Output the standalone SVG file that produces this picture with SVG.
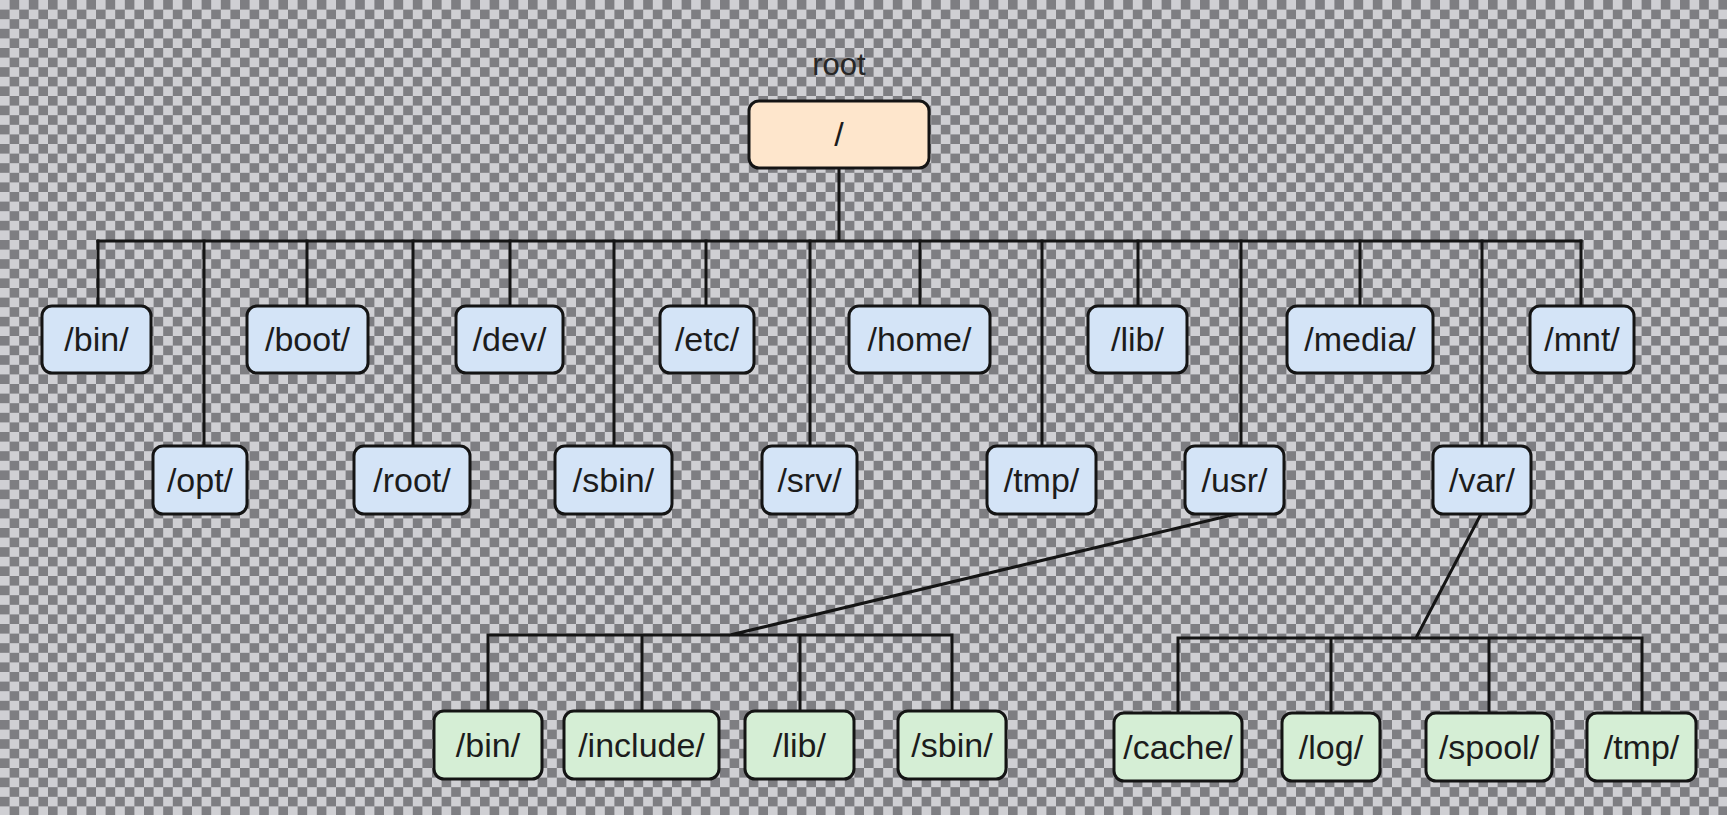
<svg xmlns="http://www.w3.org/2000/svg" width="1727" height="815" viewBox="0 0 1727 815">
<defs>
<pattern id="checker" x="0" y="0" width="19.2" height="19.2" patternUnits="userSpaceOnUse">
<rect x="0" y="0" width="19.2" height="19.2" fill="#cfcfd3"/>
<rect x="9.6" y="0" width="9.6" height="9.6" fill="#7e7e82"/>
<rect x="0" y="9.6" width="9.6" height="9.6" fill="#7e7e82"/>
</pattern>
</defs>
<style>
.box{stroke:#141414;stroke-width:3}
.blue{fill:#d4e4f7}
.green{fill:#d5eed5}
.peach{fill:#fee6cc}
.lbl{font-family:"Liberation Sans",Arial,sans-serif;font-size:34px;fill:#1c1c1c;text-anchor:middle}
.cap{font-family:"Liberation Sans",Arial,sans-serif;font-size:31px;fill:#262626;text-anchor:middle}
.conn{stroke:#141414;stroke-width:3;fill:none;stroke-linecap:square}
</style>
<rect x="0" y="0" width="1727" height="815" fill="url(#checker)"/>

<g id="connectors">
<path class="conn" d="M839 168 V241 M98 241 H1581"/>
<path class="conn" d="M98 241 V306 M307 241 V306 M510 241 V306 M706 241 V306 M920 241 V306 M1138 241 V306 M1360 241 V306 M1581 241 V306"/>
<path class="conn" d="M204 241 V446 M413 241 V446 M614 241 V446 M810 241 V446 M1042 241 V446 M1241 241 V446 M1482 241 V446"/>
<path class="conn" d="M1236 514 L730 635 M488 635 H952 M488 635 V711 M642 635 V711 M800 635 V711 M952 635 V711"/>
<path class="conn" d="M1481 514 L1416 638 M1178 638 H1642 M1178 638 V713 M1331 638 V713 M1489 638 V713 M1642 638 V713"/>
</g>

<g id="node-root">
<text class="cap" x="839" y="75">root</text>
<rect class="box peach" x="749" y="101" width="180" height="67" rx="10"/>
<text class="lbl" x="839" y="146">/</text>
</g>

<g id="node-bin"><rect class="box blue" x="42" y="306" width="109" height="67" rx="10"/><text class="lbl" x="96.5" y="351">/bin/</text></g>
<g id="node-boot"><rect class="box blue" x="247" y="306" width="121" height="67" rx="10"/><text class="lbl" x="307.5" y="351">/boot/</text></g>
<g id="node-dev"><rect class="box blue" x="456" y="306" width="107" height="67" rx="10"/><text class="lbl" x="509.5" y="351">/dev/</text></g>
<g id="node-etc"><rect class="box blue" x="660" y="306" width="94" height="67" rx="10"/><text class="lbl" x="707" y="351">/etc/</text></g>
<g id="node-home"><rect class="box blue" x="849" y="306" width="141" height="67" rx="10"/><text class="lbl" x="919.5" y="351">/home/</text></g>
<g id="node-lib"><rect class="box blue" x="1088" y="306" width="99" height="67" rx="10"/><text class="lbl" x="1137.5" y="351">/lib/</text></g>
<g id="node-media"><rect class="box blue" x="1287" y="306" width="146" height="67" rx="10"/><text class="lbl" x="1360" y="351">/media/</text></g>
<g id="node-mnt"><rect class="box blue" x="1530" y="306" width="104" height="67" rx="10"/><text class="lbl" x="1582" y="351">/mnt/</text></g>

<g id="node-opt"><rect class="box blue" x="153" y="446" width="94" height="68" rx="10"/><text class="lbl" x="200" y="492">/opt/</text></g>
<g id="node-rootdir"><rect class="box blue" x="354" y="446" width="116" height="68" rx="10"/><text class="lbl" x="412" y="492">/root/</text></g>
<g id="node-sbin"><rect class="box blue" x="555" y="446" width="117" height="68" rx="10"/><text class="lbl" x="613.5" y="492">/sbin/</text></g>
<g id="node-srv"><rect class="box blue" x="762" y="446" width="95" height="68" rx="10"/><text class="lbl" x="809.5" y="492">/srv/</text></g>
<g id="node-tmp"><rect class="box blue" x="987" y="446" width="109" height="68" rx="10"/><text class="lbl" x="1041.5" y="492">/tmp/</text></g>
<g id="node-usr"><rect class="box blue" x="1185" y="446" width="99" height="68" rx="10"/><text class="lbl" x="1234.5" y="492">/usr/</text></g>
<g id="node-var"><rect class="box blue" x="1433" y="446" width="98" height="68" rx="10"/><text class="lbl" x="1482" y="492">/var/</text></g>

<g id="node-usr-bin"><rect class="box green" x="434" y="711" width="108" height="68" rx="10"/><text class="lbl" x="488" y="757">/bin/</text></g>
<g id="node-usr-include"><rect class="box green" x="564" y="711" width="155" height="68" rx="10"/><text class="lbl" x="641.5" y="757">/include/</text></g>
<g id="node-usr-lib"><rect class="box green" x="745" y="711" width="109" height="68" rx="10"/><text class="lbl" x="799.5" y="757">/lib/</text></g>
<g id="node-usr-sbin"><rect class="box green" x="898" y="711" width="108" height="68" rx="10"/><text class="lbl" x="952" y="757">/sbin/</text></g>

<g id="node-var-cache"><rect class="box green" x="1114" y="713" width="128" height="68" rx="10"/><text class="lbl" x="1178" y="759">/cache/</text></g>
<g id="node-var-log"><rect class="box green" x="1282" y="713" width="98" height="68" rx="10"/><text class="lbl" x="1331" y="759">/log/</text></g>
<g id="node-var-spool"><rect class="box green" x="1426" y="713" width="126" height="68" rx="10"/><text class="lbl" x="1489" y="759">/spool/</text></g>
<g id="node-var-tmp"><rect class="box green" x="1587" y="713" width="109" height="68" rx="10"/><text class="lbl" x="1641.5" y="759">/tmp/</text></g>
</svg>
